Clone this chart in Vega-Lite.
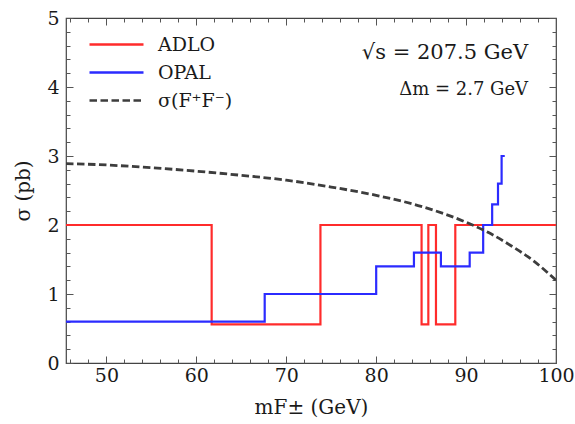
{
  "$schema": "https://vega.github.io/schema/vega-lite/v6.json",
  "width": 490,
  "height": 345,
  "autosize": "none",
  "padding": {"left": 66, "top": 18, "right": 19, "bottom": 61},
  "config": {
    "view": {"stroke": "#444444", "strokeWidth": 1.2},
    "font": "DejaVu Serif",
    "axis": {"domain": false, "grid": false, "tickColor": "#555555", "tickWidth": 1, "labelFont": "DejaVu Serif", "titleFont": "DejaVu Serif", "labelColor": "#1a1a1a", "titleColor": "#1a1a1a", "titleFontWeight": "normal", "labelOverlap": false, "labelFlush": false},
    "legend": {"labelFont": "DejaVu Serif"},
    "text": {"font": "DejaVu Serif"}
  },
  "data": {
    "values": [
      {"m": 45.5, "sigma": 2.0, "series": "ADLO"},
      {"m": 61.7, "sigma": 0.56, "series": "ADLO"},
      {"m": 73.8, "sigma": 2.0, "series": "ADLO"},
      {"m": 85.05, "sigma": 0.56, "series": "ADLO"},
      {"m": 85.8, "sigma": 2.0, "series": "ADLO"},
      {"m": 86.65, "sigma": 0.56, "series": "ADLO"},
      {"m": 88.8, "sigma": 2.0, "series": "ADLO"},
      {"m": 100, "sigma": 2.0, "series": "ADLO"},
      {"m": 45.5, "sigma": 0.6, "series": "OPAL"},
      {"m": 67.6, "sigma": 1.0, "series": "OPAL"},
      {"m": 80.0, "sigma": 1.4, "series": "OPAL"},
      {"m": 84.2, "sigma": 1.6, "series": "OPAL"},
      {"m": 87.2, "sigma": 1.4, "series": "OPAL"},
      {"m": 90.4, "sigma": 1.6, "series": "OPAL"},
      {"m": 91.9, "sigma": 2.0, "series": "OPAL"},
      {"m": 92.9, "sigma": 2.3, "series": "OPAL"},
      {"m": 93.55, "sigma": 2.6, "series": "OPAL"},
      {"m": 93.95, "sigma": 3.0, "series": "OPAL"},
      {"m": 94.3, "sigma": 3.0, "series": "OPAL"},
      {"m": 45.5, "sigma": 2.89, "series": "σ(F⁺F⁻)"},
      {"m": 50, "sigma": 2.87, "series": "σ(F⁺F⁻)"},
      {"m": 55, "sigma": 2.83, "series": "σ(F⁺F⁻)"},
      {"m": 60, "sigma": 2.78, "series": "σ(F⁺F⁻)"},
      {"m": 65, "sigma": 2.72, "series": "σ(F⁺F⁻)"},
      {"m": 70, "sigma": 2.65, "series": "σ(F⁺F⁻)"},
      {"m": 75, "sigma": 2.55, "series": "σ(F⁺F⁻)"},
      {"m": 80, "sigma": 2.43, "series": "σ(F⁺F⁻)"},
      {"m": 85, "sigma": 2.27, "series": "σ(F⁺F⁻)"},
      {"m": 90, "sigma": 2.04, "series": "σ(F⁺F⁻)"},
      {"m": 92.5, "sigma": 1.89, "series": "σ(F⁺F⁻)"},
      {"m": 95, "sigma": 1.70, "series": "σ(F⁺F⁻)"},
      {"m": 97.5, "sigma": 1.48, "series": "σ(F⁺F⁻)"},
      {"m": 100, "sigma": 1.20, "series": "σ(F⁺F⁻)"}
    ]
  },
  "layer": [
    {
      "transform": [{"filter": {"field": "series", "oneOf": ["ADLO", "OPAL"]}}],
      "mark": {"type": "line", "interpolate": "step-after", "strokeWidth": 2.2, "clip": true},
      "encoding": {
        "x": {"field": "m", "type": "quantitative", "scale": {"domain": [45.5, 100], "nice": false, "zero": false},
          "axis": {"orient": "bottom", "title": "mF± (GeV)", "titleFontSize": 20, "titlePadding": 9,
            "values": [46,48,50,52,54,56,58,60,62,64,66,68,70,72,74,76,78,80,82,84,86,88,90,92,94,96,98,100],
            "tickSize": {"condition": {"test": "datum.value % 10 === 0", "value": -7}, "value": -4},
            "labelExpr": "datum.value % 10 === 0 ? format(datum.value, 'd') : ''", "labelFontSize": 19, "labelPadding": 10}},
        "y": {"field": "sigma", "type": "quantitative", "scale": {"domain": [0, 5], "nice": false},
          "axis": {"orient": "left", "title": "σ (pb)", "titleFontSize": 20, "titlePadding": 13,
            "values": [0,0.2,0.4,0.6,0.8,1,1.2,1.4,1.6,1.8,2,2.2,2.4,2.6,2.8,3,3.2,3.4,3.6,3.8,4,4.2,4.4,4.6,4.8,5],
            "tickSize": {"condition": {"test": "abs(datum.value - round(datum.value)) < 0.001", "value": -7}, "value": -4},
            "labelExpr": "abs(datum.value - round(datum.value)) < 0.001 ? format(datum.value, 'd') : ''", "labelFontSize": 19, "labelPadding": 14}},
        "color": {"field": "series", "type": "nominal",
          "scale": {"domain": ["ADLO", "OPAL", "σ(F⁺F⁻)"], "range": ["#ff2b2b", "#2b2bff", "#3d3d3d"]},
          "legend": {"orient": "none", "legendX": 41, "legendY": 17, "title": null, "padding": 0,
            "symbolType": "M-9,0H9", "symbolSize": 36, "symbolStrokeWidth": 2.5, "symbolFillColor": "transparent",
            "labelFontSize": 19, "labelColor": "#1a1a1a", "labelOffset": 32, "rowPadding": 8}},
        "strokeDash": {"field": "series", "type": "nominal",
          "scale": {"domain": ["ADLO", "OPAL", "σ(F⁺F⁻)"], "range": [[1, 0], [1, 0], [7.5, 3.5]]},
          "legend": {"orient": "none", "legendX": 41, "legendY": 17, "title": null, "padding": 0,
            "symbolType": "M-9,0H9", "symbolSize": 36, "symbolStrokeWidth": 2.5, "symbolFillColor": "transparent",
            "labelFontSize": 19, "labelColor": "#1a1a1a", "labelOffset": 32, "rowPadding": 8}}
      }
    },
    {
      "transform": [{"filter": {"field": "series", "equal": "σ(F⁺F⁻)"}}],
      "mark": {"type": "line", "interpolate": "monotone", "strokeWidth": 2.8, "clip": true},
      "encoding": {
        "x": {"field": "m", "type": "quantitative",
          "axis": {"orient": "top", "title": null, "labels": false,
            "values": [46,48,50,52,54,56,58,60,62,64,66,68,70,72,74,76,78,80,82,84,86,88,90,92,94,96,98,100],
            "tickSize": {"condition": {"test": "datum.value % 10 === 0", "value": -7}, "value": -4}}},
        "y": {"field": "sigma", "type": "quantitative",
          "axis": {"orient": "right", "title": null, "labels": false,
            "values": [0,0.2,0.4,0.6,0.8,1,1.2,1.4,1.6,1.8,2,2.2,2.4,2.6,2.8,3,3.2,3.4,3.6,3.8,4,4.2,4.4,4.6,4.8,5],
            "tickSize": {"condition": {"test": "abs(datum.value - round(datum.value)) < 0.001", "value": -7}, "value": -4}}},
        "color": {"field": "series", "type": "nominal"},
        "strokeDash": {"field": "series", "type": "nominal"}
      }
    },
    {
      "data": {"values": [{"m": 96.9, "sigma": 4.5, "label": "√s = 207.5 GeV"}]},
      "mark": {"type": "text", "align": "right", "baseline": "middle", "fontSize": 21, "color": "#1a1a1a"},
      "encoding": {
        "x": {"field": "m", "type": "quantitative", "axis": null},
        "y": {"field": "sigma", "type": "quantitative", "axis": null},
        "text": {"field": "label"}
      }
    },
    {
      "data": {"values": [{"m": 96.9, "sigma": 3.96, "label": "Δm = 2.7 GeV"}]},
      "mark": {"type": "text", "align": "right", "baseline": "middle", "fontSize": 18, "color": "#1a1a1a"},
      "encoding": {
        "x": {"field": "m", "type": "quantitative", "axis": null},
        "y": {"field": "sigma", "type": "quantitative", "axis": null},
        "text": {"field": "label"}
      }
    }
  ],
  "resolve": {"axis": {"x": "independent", "y": "independent"}}
}
